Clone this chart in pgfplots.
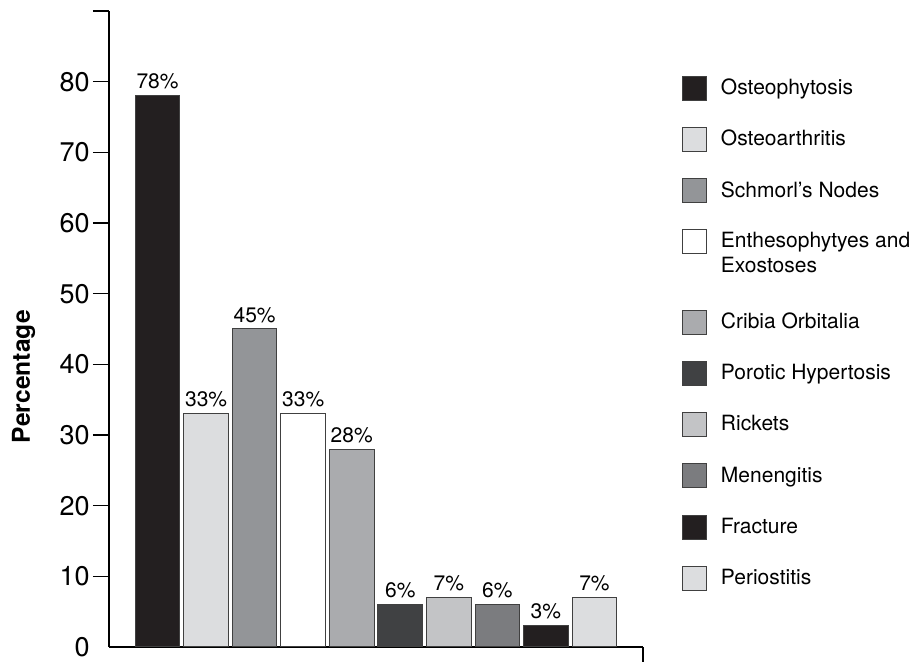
\documentclass[border=0pt]{standalone}
\usepackage{pgfplots}
\pgfplotsset{compat=1.18}
\usepackage{fontspec}
\setmainfont{TeX Gyre Heros}
\definecolor{cA}{HTML}{231F20}
\definecolor{cB}{HTML}{DCDDDF}
\definecolor{cC}{HTML}{939598}
\definecolor{cD}{HTML}{FFFFFF}
\definecolor{cE}{HTML}{AAABAE}
\definecolor{cF}{HTML}{404143}
\definecolor{cG}{HTML}{C3C4C6}
\definecolor{cH}{HTML}{7B7C7F}
\definecolor{cI}{HTML}{231F20}
\definecolor{cJ}{HTML}{DCDDDF}
\pgfplotsset{
  mylegend/.style={legend image code/.code={\draw[##1,draw=black!75,line width=0.5pt] (0pt,-6pt) rectangle (12pt,6pt);}},
  mybar/.style={fill=#1, draw=black!75, line width=0.5pt, bar shift=0pt, mylegend},
}
\newcommand{\lst}{\rule[-3pt]{0pt}{10pt}}
\begin{document}
\begin{tikzpicture}
\path[use as bounding box] (-54.5pt,-7.5pt) rectangle (403.5pt,323.5pt);
\begin{axis}[
  scale only axis,
  width=267pt, height=318pt,
  xmin=-1, xmax=10, ymin=0, ymax=90,
  axis x line*=bottom, axis y line*=left,
  axis line style={line width=0.65pt, black},
  ybar, bar width=0.92,
  xtick={10}, xticklabels={},
  ytick={10,20,...,90},
  yticklabels={10,20,30,40,50,60,70,80,{}},
  extra y ticks={0}, extra y tick labels={0},
  extra y tick style={major tick length=0pt, yticklabel style={xshift=-8pt}},
  tick align=outside, major tick length=8pt,
  tick style={line width=0.65pt, black},
  /pgf/number format/assume math mode=true,
  yticklabel style={font=\fontsize{13.5}{16}\selectfont, inner sep=0pt, xshift=-1.5pt},
  ylabel={Percentage},
  ylabel style={font=\fontsize{12.3}{14}\selectfont\bfseries, at={(axis description cs:-0.160,0.425)}, anchor=center},
  nodes near coords={\pgfmathprintnumber{\pgfplotspointmeta}\%},
  nodes near coords style={font=\fontsize{10.5}{12}\selectfont, inner sep=3pt, anchor=south},
  legend style={at={(axis description cs:1.073,0.898)}, anchor=north west, draw=none, fill=none,
    inner sep=0pt, outer sep=0pt, row sep=13.1pt, column sep=7pt,
    font=\fontsize{10.5}{12.6}\selectfont,
    nodes={inner sep=0pt}},
  legend cell align=left,
  clip=false,
]
\addplot[mybar=cA] coordinates {(0,78)};
\addlegendentry{\lst Osteophytosis}
\addplot[mybar=cB] coordinates {(1,33)};
\addlegendentry{\lst Osteoarthritis}
\addplot[mybar=cC] coordinates {(2,45)};
\addlegendentry{\lst Schmorl's Nodes}
\addplot[mybar=cD] coordinates {(3,33)};
\addlegendentry{\rule{0pt}{7pt}\smash{\rlap{\raisebox{-12.6pt}[0pt][0pt]{Exostoses}}Enthesophytyes and}}
\addlegendimage{empty legend}
\addlegendentry{}
\addplot[mybar=cE] coordinates {(4,28)};
\addlegendentry{\lst Cribia Orbitalia}
\addplot[mybar=cF] coordinates {(5,6)};
\addlegendentry{\lst Porotic Hypertosis}
\addplot[mybar=cG] coordinates {(6,7)};
\addlegendentry{\lst Rickets}
\addplot[mybar=cH] coordinates {(7,6)};
\addlegendentry{\lst Menengitis}
\addplot[mybar=cI] coordinates {(8,3)};
\addlegendentry{\lst Fracture}
\addplot[mybar=cJ] coordinates {(9,7)};
\addlegendentry{\lst Periostitis}
\end{axis}
\end{tikzpicture}
\end{document}
